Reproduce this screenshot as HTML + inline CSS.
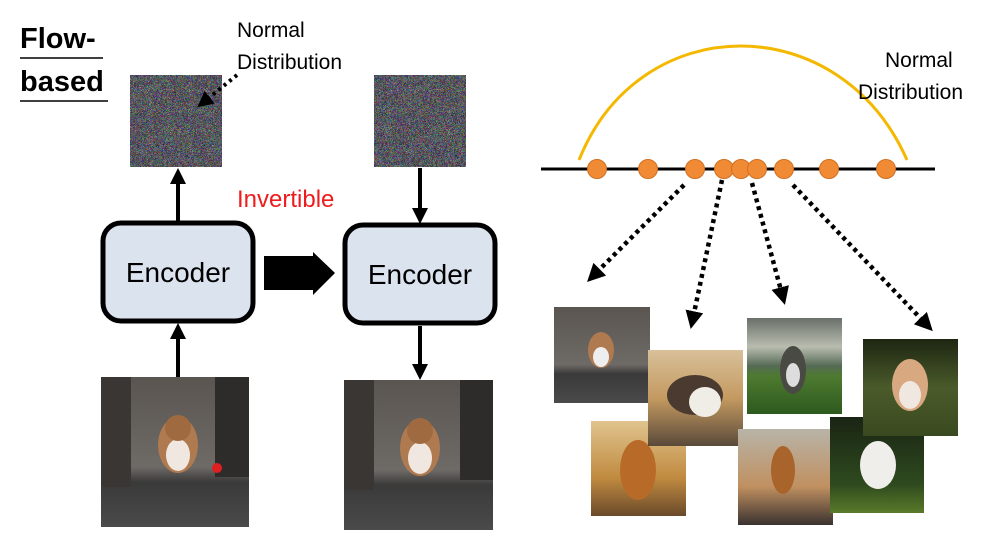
<!DOCTYPE html>
<html><head><meta charset="utf-8"><style>
html,body{margin:0;padding:0;background:#fff;}
svg{display:block;font-family:"Liberation Sans","DejaVu Sans",sans-serif;}
</style></head><body>
<svg width="1007" height="548" viewBox="0 0 1007 548" xmlns="http://www.w3.org/2000/svg">
<defs>
<filter id="noise" x="0" y="0" width="100%" height="100%">
<feTurbulence type="turbulence" baseFrequency="0.95" numOctaves="1" seed="3"/>
<feColorMatrix type="matrix" values="2.2 0 0 0 -0.3  0 2.2 0 0 -0.3  0 0 2.2 0 -0.25  0 0 0 0 1"/>
</filter>
<marker id="ah" markerWidth="4" markerHeight="4" refX="1.5" refY="2" orient="auto" markerUnits="strokeWidth"><path d="M0,0 L4,2 L0,4 Z" fill="#000"/></marker>
<marker id="ahd" markerWidth="4" markerHeight="4" refX="1.5" refY="2" orient="auto" markerUnits="strokeWidth"><path d="M0,0 L4,2 L0,4 Z" fill="#000"/></marker>
<linearGradient id="street" x1="0" y1="0" x2="0" y2="1"><stop offset="0" stop-color="#5a5550"/><stop offset="0.6" stop-color="#6e6a66"/><stop offset="0.7" stop-color="#3a3a3a"/><stop offset="1" stop-color="#4a4a4a"/></linearGradient>
<linearGradient id="dust" x1="0" y1="0" x2="0" y2="1"><stop offset="0" stop-color="#d8c09a"/><stop offset="0.5" stop-color="#c49a60"/><stop offset="1" stop-color="#5a4a3a"/></linearGradient>
<linearGradient id="field" x1="0" y1="0" x2="0" y2="1"><stop offset="0" stop-color="#6a706a"/><stop offset="0.3" stop-color="#b9bdb0"/><stop offset="0.5" stop-color="#556a55"/><stop offset="0.6" stop-color="#4e7a30"/><stop offset="1" stop-color="#2d5a1e"/></linearGradient>
<linearGradient id="grass" x1="0" y1="0" x2="0" y2="1"><stop offset="0" stop-color="#1e2612"/><stop offset="0.5" stop-color="#4a5a2a"/><stop offset="1" stop-color="#3a4a20"/></linearGradient>
<linearGradient id="dust2" x1="0" y1="0" x2="0" y2="1"><stop offset="0" stop-color="#e0c48e"/><stop offset="0.6" stop-color="#c08a40"/><stop offset="1" stop-color="#6a4a2a"/></linearGradient>
<linearGradient id="dust3" x1="0" y1="0" x2="0" y2="1"><stop offset="0" stop-color="#b8b4a8"/><stop offset="0.6" stop-color="#c09060"/><stop offset="1" stop-color="#3a3230"/></linearGradient>
<linearGradient id="grass2" x1="0" y1="0" x2="0" y2="1"><stop offset="0" stop-color="#1a2414"/><stop offset="0.7" stop-color="#2e4a1e"/><stop offset="1" stop-color="#5a7a2a"/></linearGradient>
</defs>

<text x="20" y="48" font-size="29" font-weight="bold">Flow-</text>
<line x1="20" y1="58" x2="103" y2="58" stroke="#000" stroke-width="1.5"/>
<text x="20" y="91" font-size="29" font-weight="bold">based</text>
<line x1="20" y1="101" x2="108" y2="101" stroke="#000" stroke-width="1.5"/>

<rect x="130" y="75" width="92" height="92" fill="#6e6e72"/>
<rect x="130" y="75" width="92" height="92" filter="url(#noise)" opacity="0.55"/>
<rect x="374" y="75" width="92" height="92" fill="#6e6e72"/>
<rect x="374" y="75" width="92" height="92" filter="url(#noise)" opacity="0.55"/>

<text x="237" y="37" font-size="21">Normal</text>
<text x="237" y="69" font-size="21">Distribution</text>
<line x1="237" y1="75" x2="205" y2="101" stroke="#000" stroke-width="4" stroke-dasharray="3,4" marker-end="url(#ahd)"/>

<line x1="178" y1="222" x2="178" y2="178" stroke="#000" stroke-width="4" marker-end="url(#ah)"/>
<line x1="420" y1="168" x2="420" y2="214" stroke="#000" stroke-width="4" marker-end="url(#ah)"/>
<line x1="178" y1="377" x2="178" y2="333" stroke="#000" stroke-width="4" marker-end="url(#ah)"/>
<line x1="420" y1="326" x2="420" y2="370" stroke="#000" stroke-width="4" marker-end="url(#ah)"/>

<text x="237" y="207" font-size="24" fill="#ee1c1c">Invertible</text>

<rect x="103" y="223" width="150" height="98" rx="18" fill="#dbe3ef" stroke="#000" stroke-width="5"/>
<text x="178" y="282" font-size="28" text-anchor="middle">Encoder</text>
<rect x="345" y="225" width="150" height="98" rx="18" fill="#dbe3ef" stroke="#000" stroke-width="5"/>
<text x="420" y="284" font-size="28" text-anchor="middle">Encoder</text>

<path d="M264,256 L313,256 L313,252 L335,273 L313,295 L313,290 L264,290 Z" fill="#000"/>

<g>
<rect x="101" y="377" width="148" height="150" fill="url(#street)"/>
<rect x="101" y="377" width="30" height="110" fill="#3a3633"/>
<rect x="215" y="377" width="34" height="100" fill="#2e2c2a"/>
<ellipse cx="178" cy="445" rx="20" ry="28" fill="#b07a50"/>
<ellipse cx="178" cy="455" rx="12" ry="16" fill="#f0e8e0"/>
<circle cx="178" cy="428" r="13" fill="#a06a40"/>
<circle cx="217" cy="468" r="5" fill="#e02020"/>
</g>
<g>
<rect x="344" y="380" width="149" height="150" fill="url(#street)"/>
<rect x="344" y="380" width="30" height="110" fill="#3a3633"/>
<rect x="460" y="380" width="33" height="100" fill="#2e2c2a"/>
<ellipse cx="420" cy="448" rx="20" ry="28" fill="#b07a50"/>
<ellipse cx="420" cy="458" rx="12" ry="16" fill="#f0e8e0"/>
<circle cx="420" cy="431" r="13" fill="#a06a40"/>
</g>

<path d="M579,160 C640,8 840,8 907,160" fill="none" stroke="#f5b800" stroke-width="3"/>
<line x1="541" y1="169" x2="935" y2="169" stroke="#000" stroke-width="3"/>
<g fill="#f08a35" stroke="#d07020" stroke-width="1">
<circle cx="597" cy="169" r="9.5"/><circle cx="648" cy="169" r="9.5"/><circle cx="695" cy="169" r="9.5"/>
<circle cx="724" cy="169" r="9.5"/><circle cx="741" cy="169" r="9.5"/><circle cx="757" cy="169" r="9.5"/>
<circle cx="784" cy="169" r="9.5"/><circle cx="829" cy="169" r="9.5"/><circle cx="886" cy="169" r="9.5"/>
</g>
<text x="885" y="67" font-size="21">Normal</text>
<text x="858" y="99" font-size="21">Distribution</text>

<g stroke="#000" stroke-width="4.5" stroke-dasharray="4,4" fill="none">
<line x1="684" y1="185" x2="595" y2="274" marker-end="url(#ahd)"/>
<line x1="722" y1="180" x2="693" y2="318" marker-end="url(#ahd)"/>
<line x1="752" y1="183" x2="782" y2="294" marker-end="url(#ahd)"/>
<line x1="793" y1="185" x2="925" y2="323" marker-end="url(#ahd)"/>
</g>

<g>
<rect x="554" y="307" width="96" height="96" fill="url(#street)"/>
<ellipse cx="601" cy="350" rx="13" ry="18" fill="#b07a50"/><ellipse cx="601" cy="357" rx="8" ry="10" fill="#eee"/>
</g>
<g>
<rect x="591" y="421" width="95" height="95" fill="url(#dust2)"/>
<ellipse cx="638" cy="470" rx="18" ry="30" fill="#b86a28"/>
</g>
<g>
<rect x="648" y="350" width="95" height="96" fill="url(#dust)"/>
<ellipse cx="695" cy="395" rx="28" ry="20" fill="#4a3a30"/><ellipse cx="705" cy="402" rx="16" ry="15" fill="#f0ece6"/>
</g>
<g>
<rect x="747" y="318" width="95" height="96" fill="url(#field)"/>
<ellipse cx="793" cy="370" rx="13" ry="24" fill="#4a4a44"/><ellipse cx="793" cy="375" rx="7" ry="12" fill="#ddd"/>
</g>
<g>
<rect x="738" y="429" width="95" height="96" fill="url(#dust3)"/>
<ellipse cx="783" cy="470" rx="12" ry="24" fill="#a8642a"/>
</g>
<g>
<rect x="830" y="417" width="94" height="96" fill="url(#grass2)"/>
<ellipse cx="878" cy="465" rx="18" ry="24" fill="#f0eeea"/>
</g>
<g>
<rect x="863" y="339" width="95" height="97" fill="url(#grass)"/>
<ellipse cx="910" cy="385" rx="18" ry="26" fill="#d8a880"/><ellipse cx="910" cy="395" rx="11" ry="14" fill="#f0e8e0"/>
</g>
</svg>
</body></html>
